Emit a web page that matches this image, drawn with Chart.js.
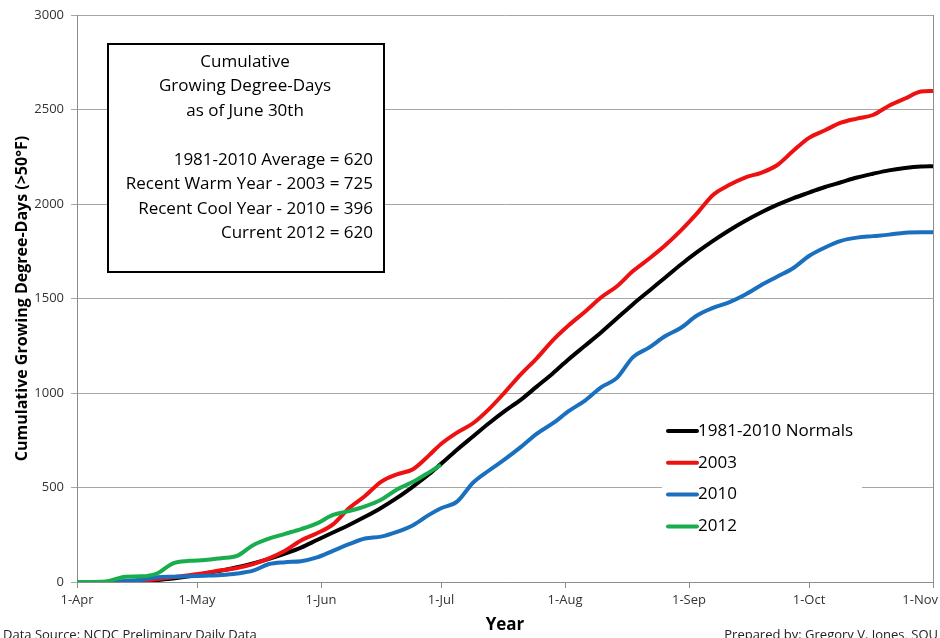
<!DOCTYPE html>
<html><head><meta charset="utf-8">
<script src="https://cdn.jsdelivr.net/npm/chart.js@4.4.1/dist/chart.umd.min.js"></script>
<style>html,body{margin:0;padding:0;background:#fff}#wrap{width:940px;height:638px;position:relative}</style>
</head><body><div id="wrap"><canvas id="c" width="940" height="638"></canvas></div>
<script>
// Day index since 1-Apr
const days = [0,4,8,12,16,20,24,28,32,36,40,44,48,52,56,60,64,68,72,76,80,84,88,91,95,99,103,107,111,115,119,123,127,131,135,139,143,147,151,155,159,163,167,171,175,179,183,187,191,195,199,203,207,211,214];
const normals = [0,0,0,0,3,10,18,30,45,60,78,98,122,150,182,222,262,302,345,392,445,505,570,625,700,770,840,905,965,1035,1105,1180,1250,1320,1395,1470,1540,1610,1680,1745,1805,1860,1910,1955,1995,2030,2060,2090,2115,2140,2160,2178,2190,2198,2200];
const y2003 = [0,0,0,0,5,15,25,36,48,62,74,95,125,165,220,258,305,390,455,530,570,597,670,730,790,840,915,1005,1100,1185,1280,1360,1430,1505,1565,1645,1710,1780,1860,1950,2048,2100,2140,2165,2205,2280,2350,2390,2430,2452,2471,2520,2558,2595,2598];
const y2010 = [0,0,0,5,12,25,28,30,33,37,45,60,95,105,110,130,165,200,230,240,265,300,355,390,425,525,590,650,715,785,840,905,960,1030,1080,1190,1240,1300,1345,1410,1450,1480,1520,1570,1615,1660,1725,1770,1805,1822,1830,1838,1848,1850,1850];
const y2012 = [0,0,5,28,30,45,99,112,116,126,138,195,230,255,280,310,355,375,400,435,490,530,580,620];
const monthTicks = [0,30,61,91,122,153,183,214];
const monthLabels = ['1-Apr','1-May','1-Jun','1-Jul','1-Aug','1-Sep','1-Oct','1-Nov'];
const yTicks = [0,500,1000,1500,2000,2500,3000];
const seriesNames = ['1981-2010 Normals','2003','2010','2012'];
const seriesColors = ['#000000','#ee1111','#1a70bf','#19ad4e'];
const boxTitle = ['Cumulative','Growing Degree-Days','as of June 30th'];
const boxLines = ['1981-2010 Average = 620','Recent Warm Year - 2003 = 725','Recent Cool Year - 2010 = 396','Current 2012 = 620'];
const yTitle = 'Cumulative Growing Degree-Days (>50\u00B0F)';
const xTitle = 'Year';
const footLeft = 'Data Source: NCDC Preliminary Daily Data';
const footRight = 'Prepared by: Gregory V. Jones, SOU';

const FONT = "'Open Sans', Lato, sans-serif";
function pts(vals){ return vals.map((v,i)=>({x:days[i], y:v})); }
const allSeries = [normals, y2003, y2010, y2012];

const overlay = {
  id:'overlay',
  afterDraw(chart){
    const ctx = chart.ctx, ca = chart.chartArea, xs = chart.scales.x;
    ctx.save();
    // right border
    ctx.strokeStyle = '#8c8c8c'; ctx.lineWidth = 1;
    ctx.beginPath(); ctx.moveTo(Math.round(ca.right)+0.5, ca.top); ctx.lineTo(Math.round(ca.right)+0.5, ca.bottom); ctx.stroke();
    // x labels
    ctx.fillStyle = '#333'; ctx.font = "13px " + FONT; ctx.textBaseline = 'middle'; ctx.textAlign = 'center';
    monthTicks.forEach((d,i)=>{
      let px = xs.getPixelForValue(d);
      const w = ctx.measureText(monthLabels[i]).width;
      if (px + w/2 > chart.width - 2) px = chart.width - 2 - w/2;
      ctx.fillText(monthLabels[i], px, ca.bottom + 18);
    });
    // x title
    ctx.fillStyle = '#000'; ctx.font = "bold 17px " + FONT; ctx.textBaseline = 'middle';
    ctx.fillText(xTitle, 505, 625);
    // footnotes
    ctx.font = "13px " + FONT; ctx.fillStyle = '#222';
    ctx.textAlign = 'left'; ctx.fillText(footLeft, 3, 635);
    ctx.textAlign = 'right'; ctx.fillText(footRight, 938, 635);
    // text box
    ctx.fillStyle = '#fff'; ctx.fillRect(108, 44, 276, 228);
    ctx.strokeStyle = '#000'; ctx.lineWidth = 2; ctx.strokeRect(108, 44, 276, 228);
    ctx.fillStyle = '#000'; ctx.font = "17px " + FONT; ctx.textAlign = 'center'; ctx.textBaseline = 'middle';
    boxTitle.forEach((t,i)=>ctx.fillText(t, 245, 62 + i*24.5));
    ctx.textAlign = 'right';
    boxLines.forEach((t,i)=>ctx.fillText(t, 373, 160 + i*24.5));
    // legend
    ctx.fillStyle = '#fff'; ctx.fillRect(662, 414, 200, 130);
    ctx.font = "17px " + FONT; ctx.textAlign = 'left'; ctx.textBaseline = 'middle';
    seriesNames.forEach((n,i)=>{
      const y = 431 + i*31.8;
      ctx.strokeStyle = seriesColors[i]; ctx.lineWidth = 4; ctx.lineCap = 'round';
      ctx.beginPath(); ctx.moveTo(668, y); ctx.lineTo(697, y); ctx.stroke();
      ctx.fillStyle = '#000'; ctx.fillText(n, 698, y);
    });
    ctx.restore();
  }
};

new Chart(document.getElementById('c'), {
  type:'line',
  data:{ datasets: allSeries.map((vals,i)=>({
    label: seriesNames[i], data: pts(vals), borderColor: seriesColors[i], backgroundColor: seriesColors[i],
    borderWidth: 4, pointRadius: 0, cubicInterpolationMode:'monotone', fill:false, order: 4-i
  })) },
  options:{
    responsive:false, animation:false, events:[],
    layout:{ padding:{ left:0, top:15, right:7, bottom:50 } },
    plugins:{ legend:{display:false}, tooltip:{enabled:false} },
    scales:{
      x:{ type:'linear', min:0, max:214,
        afterBuildTicks(s){ s.ticks = monthTicks.map(v=>({value:v})); },
        afterFit(s){ s.paddingLeft = 0; s.paddingRight = 0; },
        ticks:{ display:false },
        grid:{ drawOnChartArea:false, drawTicks:true, tickLength:6, color:'#8c8c8c' },
        border:{ display:true, color:'#8c8c8c' }
      },
      y:{ min:0, max:3000,
        afterBuildTicks(s){ s.ticks = yTicks.map(v=>({value:v})); },
        afterFit(s){ s.width = 77; s.paddingTop = 0; s.paddingBottom = 0; },
        ticks:{ color:'#333', font:{ family:FONT, size:13 }, padding:7, callback:(v)=>String(v) },
        grid:{ color:'#a6a6a6', drawTicks:true, tickLength:6 },
        border:{ display:true, color:'#8c8c8c' },
        title:{ display:true, text:yTitle, color:'#000', font:{ family:FONT, size:16, weight:'bold' }, padding:{top:13, bottom:0} }
      }
    }
  },
  plugins:[overlay]
});
</script></body></html>
